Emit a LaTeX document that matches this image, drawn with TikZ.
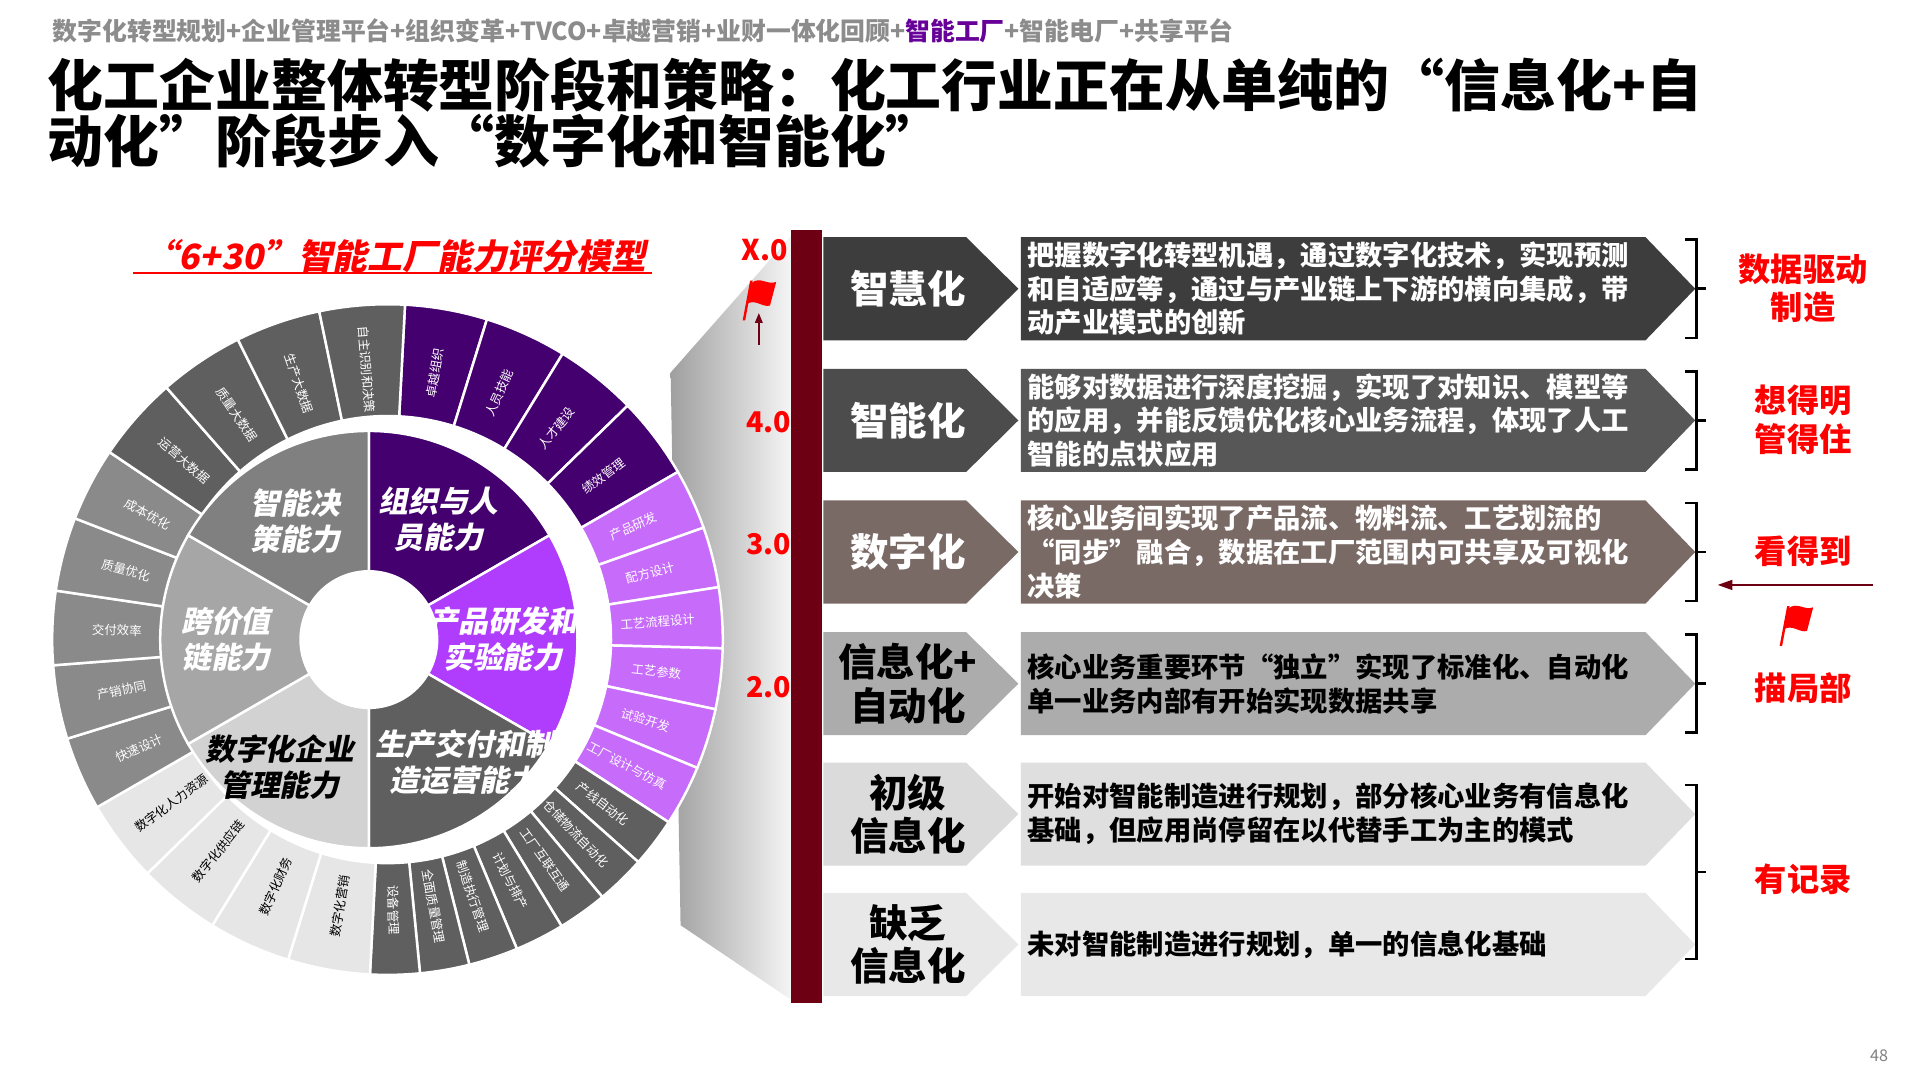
\documentclass[tikz,border=0pt]{standalone}
\usepackage{fontspec}
\setmainfont{Noto Sans CJK SC}
\newfontfamily\slf{Noto Sans CJK SC}[FakeSlant=0.2]
\usetikzlibrary{arrows.meta}
\definecolor{dpur}{HTML}{44006E}
\definecolor{lpur}{HTML}{C76BFA}
\definecolor{mpur}{HTML}{B03DFD}
\definecolor{dgr}{HTML}{5F5F5F}
\definecolor{mgr}{HTML}{8A8A8A}
\definecolor{lgr}{HTML}{E6E6E6}
\definecolor{barred}{HTML}{6E0014}
\definecolor{ttred}{HTML}{FF0000}
\definecolor{brn}{HTML}{7A6A66}
\definecolor{hdrgray}{HTML}{8C8C8C}
\tikzset{
  fs/.style={font=\fontsize{#1}{#1}\selectfont\bfseries},
  otext/.style={font=\fontsize{5}{6}\selectfont, inner sep=0pt},
  itext/.style={font=\slf\fontsize{12}{14.5}\selectfont\bfseries, align=center, inner sep=0pt},
  chev/.style={font=\fontsize{15.5}{18}\selectfont\bfseries, align=center},
  desc/.style={font=\fontsize{11}{13.6}\selectfont\bfseries, align=left, anchor=west, inner sep=0pt},
  rlab/.style={font=\fontsize{13}{15.5}\selectfont\bfseries, text=ttred, align=center},
  lvl/.style={font=\fontsize{11.5}{13}\selectfont\bfseries, text=ttred},
}
\newcommand\flagshape[2]{%
  \fill[ttred] (#1+0,#2+20) -- (#1+2,#2+20) -- (#1+8,#2-12) -- (#1+6,#2-12) -- cycle;
  \fill[ttred] (#1+7,#2-10) .. controls (#1+14,#2-16) and (#1+20,#2-8) .. (#1+27,#2-11)
     -- (#1+22,#2+8) .. controls (#1+16,#2+10) and (#1+10,#2+2) .. (#1+3,#2+7) -- cycle;}
\begin{document}
\begin{tikzpicture}[x=0.5pt,y=-0.5pt]
\useasboundingbox[fill=white] (0,0) rectangle (1546,870);
% header
\node[anchor=west, fs=10, text=hdrgray, inner sep=0] (hdr) at (42,25)
  {数字化转型规划+企业管理平台+组织变革+TVCO+卓越营销+业财一体化回顾+\textcolor{violet!80!blue}{智能工厂}+智能电厂+共享平台};
\node[anchor=west, align=left, inner sep=0, font=\fontsize{22.5}{21}\selectfont\bfseries] (title) at (38,91)
  {化工企业整体转型阶段和策略：化工行业正在从单纯的“信息化+自\\动化”阶段步入“数字化和智能化”};
% subtitle
\node[font=\slf\fontsize{14}{16}\selectfont\bfseries, text=ttred] (sub) at (318,206) {“6+30”智能工厂能力评分模型};
\draw[ttred, line width=1pt] (107,220) -- (525,220);
% funnel
\shade[left color=gray!75, right color=gray!8] (540,300) -- (637,190) -- (637,805) -- (548,745) -- cycle;
% outer ring
\begin{scope}[shift={(312,515)}, yscale=-1]
\foreach \a/\b/\c/\t/\l [count=\i] in {
87/72.75/dpur/white/卓越组织, 72.75/58.5/dpur/white/人员技能, 58.5/44.25/dpur/white/人才建设, 44.25/30/dpur/white/绩效管理,
30/19.5/lpur/white/产品研发, 19.5/9/lpur/white/配方设计, 9/-1.5/lpur/white/工艺流程设计, -1.5/-12/lpur/white/工艺参数, -12/-22.5/lpur/white/试验开发, -22.5/-33/lpur/white/工厂设计与仿真,
-33/-41.57/dgr/white/产线自动化, -41.57/-50.14/dgr/white/仓储物流自动化, -50.14/-58.71/dgr/white/工厂互联互通, -58.71/-67.29/dgr/white/计划与排产, -67.29/-75.86/dgr/white/制造执行管理, -75.86/-84.43/dgr/white/全面质量管理, -84.43/-93/dgr/white/设备管理,
-93/-107.25/lgr/black/数字化营销, -107.25/-121.5/lgr/black/数字化财务, -121.5/-135.75/lgr/black/数字化供应链, -135.75/-150/lgr/black/数字化人力资源,
-150/-162.8/mgr/white/快速设计, -162.8/-175.6/mgr/white/产销协同, -175.6/-188.4/mgr/white/交付效率, -188.4/-201.2/mgr/white/质量优化, -201.2/-214/mgr/white/成本优化,
-214/-228.75/dgr/white/运营大数据, -228.75/-243.5/dgr/white/质量大数据, -243.5/-258.25/dgr/white/生产大数据, -258.25/-273/dgr/white/自主识别和决策}{
  \filldraw[fill=\c, draw=white, line width=1pt] (\a:180) arc[start angle=\a, end angle=\b, radius=180] -- (\b:270) arc[start angle=\b, end angle=\a, radius=270] -- cycle;
  \pgfmathsetmacro\mid{(\a+\b)/2}
  \pgfmathsetmacro\rot{(\mid>-95) ? \mid : \mid+180}
  \node[otext, text=\t, rotate=\rot] (o\i) at (\mid:218) {\l};
}
\end{scope}
% inner sectors
\begin{scope}[shift={(297,515)}, yscale=-1]
\foreach \a/\c [count=\i] in {90/dpur, 30/mpur, -30/dgr, -90/gray!35, -150/gray!70, -210/gray!100}{
  \filldraw[fill=\c, draw=white, line width=1pt] (\a:55) arc[start angle=\a, end angle=\a-60, radius=55] -- (\a-60:168) arc[start angle=\a-60, end angle=\a, radius=168] -- cycle;
}
\fill[white] (0,0) circle[radius=55];
\node[itext, text=white] (s1) at (60:112) {组织与人\\员能力};
\node[itext, text=white] (s2) at (0:108) {产品研发和\\实验能力};
\node[itext, text=white] (s3) at (-52:125) {生产交付和制\\造运营能力};
\node[itext, text=black] (s4) at (-125:125) {数字化企业\\管理能力};
\node[itext, text=white] (s5) at (180:115) {跨价值\\链能力};
\node[itext, text=white] (s6) at (122:112) {智能决\\策能力};
\end{scope}
% bar
\fill[barred] (637,185) rectangle (662,808);
\node[lvl] (x0) at (616,201) {X.0};
\node[lvl] (l4) at (619,340) {4.0};
\node[lvl] (l3) at (619,438) {3.0};
\node[lvl] (l2) at (619,553) {2.0};
\flagshape{598}{238}
\coordinate (fa) at (611,278); \coordinate (fb) at (611,252);
\draw[barred, line width=0.8pt, -{Triangle[length=4pt,width=3pt]}] (fa) -- (fb);
% rows
\foreach \y/\cc/\bc [count=\i] in {191/black!76/black!76, 297/black!70/black!66, 403/brn/brn, 509/gray!65/gray!65, 614/gray!28/gray!25, 719/gray!18/gray!18}{
  \fill[\cc] (663,\y) -- (778,\y) -- (820,\y+41.5) -- (778,\y+83) -- (663,\y+83) -- cycle;
  \fill[\bc] (822,\y) -- (1325,\y) -- (1365,\y+41.5) -- (1325,\y+83) -- (822,\y+83) -- cycle;
}
\node[chev, text=white] (c1) at (731,232.5) {智慧化};
\node[chev, text=white] (c2) at (731,338.5) {智能化};
\node[chev, text=white] (c3) at (731,444.5) {数字化};
\node[chev, text=black, font=\fontsize{15.5}{17.5}\selectfont\bfseries] (c4) at (731,550.5) {信息化+\\自动化};
\node[chev, text=black, font=\fontsize{15.5}{17.5}\selectfont\bfseries] (c5) at (731,655.5) {初级\\信息化};
\node[chev, text=black, font=\fontsize{15.5}{17.5}\selectfont\bfseries] (c6) at (731,760.5) {缺乏\\信息化};
\node[desc, text=white] (d1) at (827,232.5) {把握数字化转型机遇，通过数字化技术，实现预测\\和自适应等，通过与产业链上下游的横向集成，带\\动产业模式的创新};
\node[desc, text=white] (d2) at (827,338.5) {能够对数据进行深度挖掘，实现了对知识、模型等\\的应用，并能反馈优化核心业务流程，体现了人工\\智能的点状应用};
\node[desc, text=white] (d3) at (827,444.5) {核心业务间实现了产品流、物料流、工艺划流的\\“同步”融合，数据在工厂范围内可共享及可视化\\决策};
\node[desc, text=black] (d4) at (827,550.5) {核心业务重要环节“独立”实现了标准化、自动化\\单一业务内部有开始实现数据共享};
\node[desc, text=black] (d5) at (827,655.5) {开始对智能制造进行规划，部分核心业务有信息化\\基础，但应用尚停留在以代替手工为主的模式};
\node[desc, text=black] (d6) at (827,760.5) {未对智能制造进行规划，单一的信息化基础};
% brackets
\foreach \t/\b in {193/272, 299/378, 405/484, 511/590, 632/772}{
  \draw[black, line width=1pt] (1357,\t) -- (1366,\t) -- (1366,\b) -- (1357,\b);
  \draw[black, line width=1pt] (1366,{(\t+\b)/2}) -- (1374,{(\t+\b)/2});
}
\node[rlab] (r1) at (1452,232) {数据驱动\\制造};
\node[rlab] (r2) at (1452,338) {想得明\\管得住};
\node[rlab] (r3) at (1452,444) {看得到};
\node[rlab] (r4) at (1452,554) {描局部};
\node[rlab] (r5) at (1452,708) {有记录};
\coordinate (ra) at (1508,471); \coordinate (rb) at (1383,471);
\draw[barred, line width=0.8pt, -{Triangle[length=6pt,width=4pt]}] (ra) -- (rb);
\flagshape{1433}{500}
\node[font=\fontsize{6.5}{7}\selectfont, text=gray] (pg) at (1513,850) {48};
\end{tikzpicture}
\end{document}
